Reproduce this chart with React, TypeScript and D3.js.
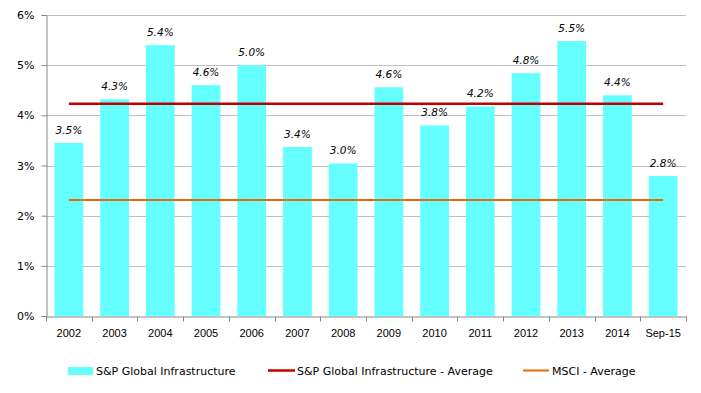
import * as d3 from "d3";
import React, { useEffect, useRef } from "react";

const years = ["2002", "2003", "2004", "2005", "2006", "2007", "2008", "2009", "2010", "2011", "2012", "2013", "2014", "Sep-15"];
const infraValues = [3.45, 4.32, 5.4, 4.6, 5.0, 3.37, 3.04, 4.56, 3.8, 4.18, 4.84, 5.48, 4.4, 2.79];
const infraAverage = 4.23;
const msciAverage = 2.31;
const yTicks = [0, 1, 2, 3, 4, 5, 6];

const App = () => {
  const svgRef = useRef<SVGSVGElement>(null);

  useEffect(() => {
    const width = 701;
    const height = 393;
    const margin = { top: 15, right: 15, bottom: 77, left: 46 };
    const svg = d3.select(svgRef.current).attr("width", width).attr("height", height);
    svg.selectAll("*").remove();

    //scales
    const xScale = d3
      .scaleBand()
      .domain(years)
      .range([margin.left, width - margin.right])
      .paddingInner(0.37)
      .paddingOuter(0.185);
    const xStep = d3
      .scaleBand()
      .domain(years)
      .range([margin.left, width - margin.right]);
    const yScale = d3.scaleLinear().domain([0, 6]).range([height - margin.bottom, margin.top]);

    //gridlines
    svg
      .append("g")
      .selectAll("line")
      .data(yTicks.slice(1))
      .join("line")
      .attr("x1", margin.left)
      .attr("x2", width - margin.right)
      .attr("y1", (d) => Math.round(yScale(d)) + 0.5)
      .attr("y2", (d) => Math.round(yScale(d)) + 0.5)
      .attr("stroke", "#c0c0c0");

    //bars
    svg
      .append("g")
      .selectAll("rect")
      .data(infraValues)
      .join("rect")
      .attr("x", (d, i) => xScale(years[i]))
      .attr("y", (d) => yScale(d))
      .attr("width", xScale.bandwidth())
      .attr("height", (d) => yScale(0) - yScale(d))
      .attr("fill", "#66ffff");

    //data labels
    svg
      .append("g")
      .selectAll("text")
      .data(infraValues)
      .join("text")
      .attr("x", (d, i) => xScale(years[i]) + xScale.bandwidth() / 2)
      .attr("y", (d) => yScale(d) - 9)
      .attr("text-anchor", "middle")
      .attr("font-family", "DejaVu Sans, Verdana, sans-serif")
      .attr("font-style", "italic")
      .attr("font-size", 10.5)
      .attr("fill", "#000")
      .text((d) => d.toFixed(1) + "%");

    //average lines
    const first = xStep(years[0]) + xStep.bandwidth() / 2;
    const last = xStep(years[years.length - 1]) + xStep.bandwidth() / 2;
    const avgLine = d3.line<[number, number]>();
    svg
      .append("path")
      .attr("d", avgLine([[first, yScale(msciAverage)], [last, yScale(msciAverage)]]))
      .attr("stroke", "#e36c09")
      .attr("stroke-width", 2)
      .attr("fill", "none");
    svg
      .append("path")
      .attr("d", avgLine([[first, yScale(infraAverage)], [last, yScale(infraAverage)]]))
      .attr("stroke", "#c00000")
      .attr("stroke-width", 2.5)
      .attr("fill", "none");

    //axes
    const yAxis = d3
      .axisLeft(yScale)
      .tickValues(yTicks)
      .tickSize(5)
      .tickFormat((d) => d + "%");
    const gy = svg.append("g").attr("transform", `translate(${margin.left + 0.5},0)`).call(yAxis);
    gy.selectAll("line").attr("stroke", "#868686");
    gy.select(".domain").attr("stroke", "#868686");
    gy.selectAll("text")
      .attr("font-family", "DejaVu Sans, Verdana, sans-serif")
      .attr("font-size", 11)
      .attr("fill", "#000")
      .attr("x", -12);

    const xAxis = d3.axisBottom(xStep).tickSize(0).tickSizeOuter(0);
    const gx = svg
      .append("g")
      .attr("transform", `translate(0,${Math.round(yScale(0)) + 0.5})`)
      .call(xAxis);
    gx.select(".domain").attr("stroke", "#868686");
    gx.selectAll("text")
      .attr("font-family", "Liberation Sans, Arial, sans-serif")
      .attr("font-size", 11)
      .attr("fill", "#000")
      .attr("dy", "1.55em");
    gx.append("g")
      .selectAll("line")
      .data(years.map((y) => xStep(y)).concat([width - margin.right]))
      .join("line")
      .attr("x1", (d) => Math.round(d) + 0.5)
      .attr("x2", (d) => Math.round(d) + 0.5)
      .attr("y1", 0)
      .attr("y2", 5)
      .attr("stroke", "#868686");

    //legend
    const legend = svg
      .append("g")
      .attr("font-family", "DejaVu Sans, Verdana, sans-serif")
      .attr("font-size", 11)
      .attr("fill", "#000");
    legend.append("rect").attr("x", 68).attr("y", 367).attr("width", 25).attr("height", 8).attr("fill", "#66ffff");
    legend.append("text").attr("x", 96).attr("y", 375).text("S&P Global Infrastructure");
    legend.append("line").attr("x1", 268).attr("x2", 295).attr("y1", 370.5).attr("y2", 370.5).attr("stroke", "#c00000").attr("stroke-width", 2.5);
    legend.append("text").attr("x", 297).attr("y", 375).text("S&P Global Infrastructure - Average");
    legend.append("line").attr("x1", 523).attr("x2", 549).attr("y1", 370.5).attr("y2", 370.5).attr("stroke", "#e36c09").attr("stroke-width", 2);
    legend.append("text").attr("x", 552).attr("y", 375).text("MSCI - Average");
  }, []);

  return <svg ref={svgRef} style={{ position: "absolute", left: 0, top: 0, background: "#fff" }}></svg>;
};

export default App;
